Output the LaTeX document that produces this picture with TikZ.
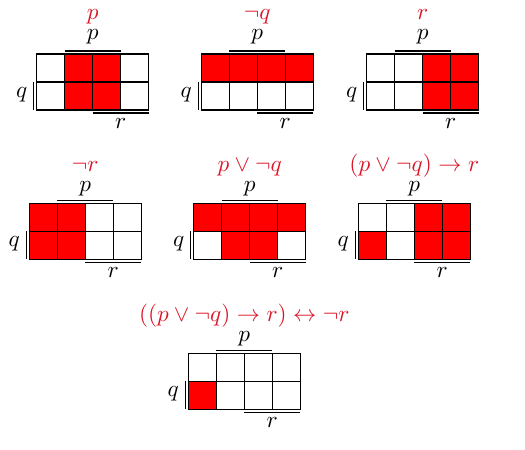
\documentclass[tikz,border=0pt]{standalone}
\usepackage{amsmath,amssymb}
\definecolor{ttl}{rgb}{0.86,0.08,0.15}
\tikzset{
  gridline/.style={draw=black, line width=0.5pt},
  barline/.style={draw=black, line width=0.5pt},
  ttlnode/.style={text=ttl, anchor=base, inner sep=0pt},
  lblnode/.style={anchor=base, inner sep=0pt},
}
% #1 name, #2 left, #3 top, #4 title, #5 filled cells (col/row), #6 title baseline offset, #7 p baseline offset
\newcommand\kmapdraw[7]{%
  \foreach \cc/\rr in {#5} {
    \fill[red] ({#2+28*(\cc-1)},{#3+28*(\rr-1)}) rectangle ++(28,28);
  }
  \foreach \k in {1,2,3} {
    \draw[gridline] ({#2+28*\k},#3) -- ({#2+28*\k},{#3+56});
  }
  \draw[gridline] (#2,{#3+28}) -- ({#2+112},{#3+28});
  \draw[gridline] (#2,#3) rectangle ({#2+112},{#3+56});
  \node[ttlnode] (#1t) at ({#2+56},{#3-#6}) {$#4$};
  \coordinate (#1pa) at ({#2+28},{#3-3});
  \coordinate (#1pb) at ({#2+84},{#3-3});
  \draw[barline] (#1pa) -- (#1pb);
  \node[lblnode] (#1p) at ({#2+56},{#3-#7}) {$p$};
  \coordinate (#1ra) at ({#2+56},{#3+59});
  \coordinate (#1rb) at ({#2+112},{#3+59});
  \draw[barline] (#1ra) -- (#1rb);
  \node[lblnode] (#1r) at ({#2+84},{#3+74.5}) {$r$};
  \coordinate (#1qa) at ({#2-3},{#3+28});
  \coordinate (#1qb) at ({#2-3},{#3+56});
  \draw[barline] (#1qa) -- (#1qb);
  \node[lblnode] (#1q) at ({#2-15},{#3+43.5}) {$q$};
}
\begin{document}
\begin{tikzpicture}[x=0.43pt,y=-0.43pt]
\useasboundingbox (0,0) rectangle (525,450);
\kmapdraw{a}{36.7}{54}{p}{2/1,3/1,2/2,3/2}{34}{14}
\kmapdraw{b}{201.3}{54}{\neg q}{1/1,2/1,3/1,4/1}{34}{14}
\kmapdraw{c}{366.7}{54}{r}{3/1,4/1,3/2,4/2}{34}{14}
\kmapdraw{d}{29.3}{203.3}{\neg r}{1/1,2/1,1/2,2/2}{31.5}{12}
\kmapdraw{e}{193.8}{203.3}{p\vee\neg q}{1/1,2/1,3/1,4/1,2/2,3/2}{31.5}{12}
\kmapdraw{f}{358.3}{203.3}{(p\vee\neg q)\to r}{3/1,4/1,1/2,3/2,4/2}{31.5}{12}
\kmapdraw{g}{188.3}{353.3}{((p\vee\neg q)\to r)\leftrightarrow\neg r}{1/2}{31.5}{12}
\end{tikzpicture}
\end{document}
